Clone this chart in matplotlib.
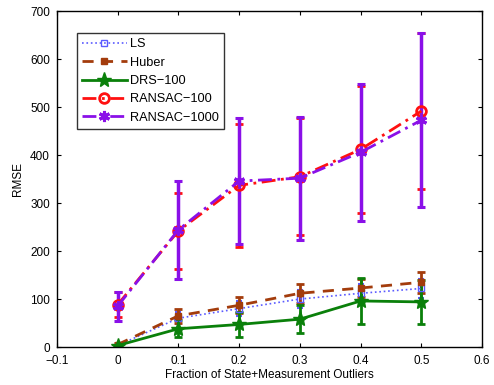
import matplotlib
matplotlib.use("Agg")
import matplotlib.pyplot as plt
from matplotlib.lines import Line2D
import numpy as np

plt.rcParams['font.family'] = ['Liberation Sans', 'DejaVu Sans']

x = [0, 0.1, 0.2, 0.3, 0.4, 0.5]
ls_mean = [3, 60, 80, 100, 112, 122]
ls_err = [2, 12, 15, 18, 20, 20]
huber_mean = [5, 65, 87, 112, 123, 135]
huber_err = [3, 14, 17, 20, 18, 22]
drs_mean = [3, 38, 47, 58, 96, 94]
drs_err = [2, 18, 27, 29, 47, 46]
r100_mean = [88, 242, 337, 355, 412, 492]
r100_err = [26, 80, 128, 122, 133, 163]
r1000_mean = [85, 244, 346, 352, 406, 473]
r1000_err = [30, 103, 131, 128, 143, 181]
labels = ['LS', 'Huber', 'DRS\u2212100', 'RANSAC\u2212100', 'RANSAC\u22121000']

fig = plt.figure(figsize=(4.94, 3.85), dpi=100)
ax = fig.add_axes([0.115, 0.0987, 0.861, 0.872])

c_ls = '#5a5aff'
c_hub = '#a33c0c'
c_drs = '#0a800a'
c_r100 = '#ff1010'
c_r1000 = '#8a10e8'
dashdot = (0, (5, 2, 1, 2))

styles = [
    dict(color=c_ls, ls=':', lw=1.2, marker='s', ms=4, mfc='none', mec=c_ls),
    dict(color=c_hub, ls=(0, (4, 3)), lw=2.0, marker=(4, 0, 45), ms=7, mfc=c_hub, mec=c_hub),
    dict(color=c_drs, ls='-', lw=2.0, marker='*', ms=11, mfc=c_drs, mec=c_drs),
    dict(color=c_r100, ls=dashdot, lw=2.0, marker='o', ms=7, mfc='none', mec=c_r100, mew=2),
    dict(color=c_r1000, ls=dashdot, lw=2.0, marker=(6, 2, 0), ms=8, mfc=c_r1000, mec=c_r1000, mew=2.2),
]
means = [ls_mean, huber_mean, drs_mean, r100_mean, r1000_mean]
errs = [ls_err, huber_err, drs_err, r100_err, r1000_err]
ewidths = [1.5, 2.0, 2.0, 2.0, 2.5]
caps = [2.5, 3, 3, 3, 3]

for m, e, st, ew, cs in zip(means, errs, styles, ewidths, caps):
    ax.errorbar(x, m, yerr=e, capsize=cs, elinewidth=ew, capthick=ew, **st)

ax.set_xlim(-0.1, 0.6)
ax.set_ylim(0, 700)
ax.set_xticks([-0.1, 0, 0.1, 0.2, 0.3, 0.4, 0.5, 0.6])
ax.set_xticklabels(['\u22120.1', '0', '0.1', '0.2', '0.3', '0.4', '0.5', '0.6'])
ax.set_yticks(range(0, 701, 100))
ax.tick_params(direction='in', top=True, right=True, labelsize=8.5, length=3, width=0.8)
ax.tick_params(axis='x', pad=6)
ax.tick_params(axis='y', pad=5)
for s in ax.spines.values():
    s.set_linewidth(1.0)
ax.set_xlabel('Fraction of State+Measurement Outliers', fontsize=8.5, labelpad=1)
ax.set_ylabel('RMSE', fontsize=8.5, labelpad=4)

handles = [Line2D([], [], **st) for st in styles]
leg = ax.legend(handles, labels, loc='upper left', bbox_to_anchor=(0.047, 0.935),
                fontsize=9.2, frameon=True, fancybox=False, edgecolor='black',
                handlelength=3.5, borderpad=0.4, labelspacing=0.5, handletextpad=0.3,
                borderaxespad=0)
leg.get_frame().set_linewidth(1.0)

fig.savefig('out.png', dpi=100)
